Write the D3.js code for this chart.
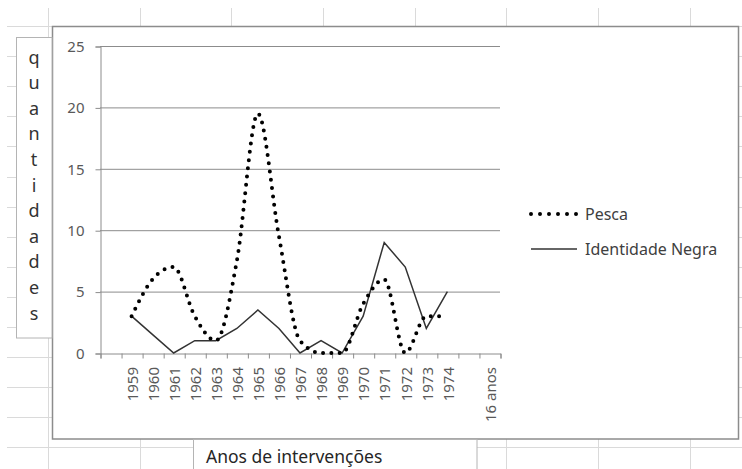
<!DOCTYPE html>
<html lang="pt">
<head>
    <meta charset="UTF-8">
    <title>Pesca e Identidade Negra</title>
    <style>
        body {
            margin: 0;
            background: #fff;
        }

        svg {
            display: block;
            font-family: "Noto Sans", sans-serif;
        }
    </style>
</head>
<body>
    <script src="https://d3js.org/d3.v7.min.js"></script>
    <script>
        // categorias do eixo x (primeira e penúltima vazias, como no original)
        const categories = [
            '', '1959', '1960', '1961', '1962', '1963', '1964', '1965', '1966',
            '1967', '1968', '1969', '1970', '1971', '1972', '1973', '1974', '', '16 anos'
        ]
        const pesca = [
            null, 3, 6, 7, 3, 1, 7.5, 19.5, 9.5, 1, 0, 0, 4, 6, 0, 3, 3, null, null
        ]
        const identidadeNegra = [
            null, 3, 1.5, 0, 1, 1, 2, 3.5, 2, 0, 1, 0, 3, 9, 7, 2, 5, null, null
        ]
        const yTicks = [0, 5, 10, 15, 20, 25]
        const seriesNames = ['Pesca', 'Identidade Negra']
        const yTitle = 'quantidades'
        const xTitle = 'Anos de intervenções'

        const width = 742
        const height = 469

        const svg = d3.select('body')
            .append('svg')
            .attr('width', width)
            .attr('height', height)

        // grade da planilha ao fundo
        const sheet = svg.append('g')
            .attr('stroke', '#dadada')
            .attr('stroke-width', 1)
        d3.range(8).forEach(k => {
            const x = Math.round(48 + 91.65 * k) + 0.5
            sheet.append('line').attr('x1', x).attr('x2', x).attr('y1', 8).attr('y2', height)
        })
        d3.range(15).forEach(k => {
            const y = Math.round(26 + 30.1 * k) + 0.5
            sheet.append('line').attr('x1', 7).attr('x2', width).attr('y1', y).attr('y2', y)
        })

        // caixa do gráfico
        svg.append('rect')
            .attr('x', 52.5).attr('y', 26.5)
            .attr('width', 686).attr('height', 412.5)
            .attr('fill', '#fff')
            .attr('stroke', '#8c8c8c')
            .attr('stroke-width', 1.5)

        // caixa do título vertical
        svg.append('rect')
            .attr('x', 16.5).attr('y', 37.5)
            .attr('width', 35.5).attr('height', 300.5)
            .attr('fill', '#fff')
            .attr('stroke', '#b4b4b4')

        svg.append('text')
            .attr('fill', '#333')
            .attr('font-size', 18)
            .attr('text-anchor', 'middle')
            .selectAll('tspan')
            .data(yTitle.split(''))
            .enter()
            .append('tspan')
            .attr('x', 34)
            .attr('y', (_, i) => 63.5 + 25.6 * i)
            .text(d => d)

        const x = d3.scaleLinear()
            .domain([0, categories.length])
            .range([100, 500])

        const y = d3.scaleLinear()
            .domain([0, 25])
            .range([353, 46])

        // linhas de grade horizontais
        svg.append('g')
            .selectAll('line')
            .data(yTicks.filter(t => t > 0))
            .enter()
            .append('line')
            .attr('x1', x(0)).attr('x2', x(categories.length))
            .attr('y1', d => y(d) + 0.5).attr('y2', d => y(d) + 0.5)
            .attr('stroke', '#8c8c8c')

        // eixo y
        const yAxis = svg.append('g')
            .attr('transform', `translate(${x(0) + 0.5},0.5)`)
            .call(d3.axisLeft(y).tickValues(yTicks).tickSize(5).tickPadding(11))
        yAxis.select('.domain').attr('stroke', '#8c8c8c')
        yAxis.selectAll('.tick line').attr('stroke', '#8c8c8c')
        yAxis.selectAll('.tick text')
            .attr('fill', '#595959')
            .attr('font-size', 15)
            .attr('font-family', '"Noto Sans", sans-serif')

        // eixo x: marcas entre categorias
        const xAxis = svg.append('g')
            .attr('transform', `translate(0.5,${y(0) + 0.5})`)
            .call(d3.axisBottom(x).tickValues(d3.range(categories.length + 1)).tickSize(5).tickFormat(''))
        xAxis.select('.domain').attr('stroke', '#8c8c8c')
        xAxis.selectAll('.tick line').attr('stroke', '#8c8c8c')

        svg.append('g')
            .selectAll('text')
            .data(categories)
            .enter()
            .append('text')
            .attr('transform', (_, i) => `translate(${x(i + 0.5) + 1},367) rotate(-90)`)
            .attr('text-anchor', 'end')
            .attr('dy', '0.35em')
            .attr('fill', '#595959')
            .attr('font-size', 15)
            .text(d => d)

        // séries
        const line = d3.line()
            .defined(d => d != null)
            .x((_, i) => x(i + 0.5))
            .y(d => y(d))

        svg.append('path')
            .datum(identidadeNegra)
            .attr('fill', 'none')
            .attr('stroke', '#333')
            .attr('stroke-width', 1.5)
            .attr('d', line)

        svg.append('path')
            .datum(pesca)
            .attr('fill', 'none')
            .attr('stroke', '#000')
            .attr('stroke-width', 4)
            .attr('stroke-linecap', 'round')
            .attr('stroke-dasharray', '0 8.3')
            .attr('d', line.curve(d3.curveMonotoneX))

        // legenda
        const legend = svg.append('g')
        const legendStyles = [
            { dash: '0 9', width: 4, cap: 'round', color: '#000' },
            { dash: null, width: 1.5, cap: 'butt', color: '#333' }
        ]
        seriesNames.forEach((name, i) => {
            const ly = 214 + 35 * i
            legend.append('line')
                .attr('x1', 531).attr('x2', 577)
                .attr('y1', ly).attr('y2', ly)
                .attr('stroke', legendStyles[i].color)
                .attr('stroke-width', legendStyles[i].width)
                .attr('stroke-linecap', legendStyles[i].cap)
                .attr('stroke-dasharray', legendStyles[i].dash)
            legend.append('text')
                .attr('x', 585).attr('y', ly)
                .attr('dy', '0.35em')
                .attr('fill', '#404040')
                .attr('font-size', 16)
                .text(name)
        })

        // caixa do título do eixo x
        svg.append('rect')
            .attr('x', 193.5).attr('y', 439.5)
            .attr('width', 283.5).attr('height', 40)
            .attr('fill', '#fff')
            .attr('stroke', '#b4b4b4')

        svg.append('text')
            .attr('x', 206).attr('y', 463)
            .attr('fill', '#262626')
            .attr('font-size', 17.5)
            .text(xTitle)
    </script>
</body>
</html>
